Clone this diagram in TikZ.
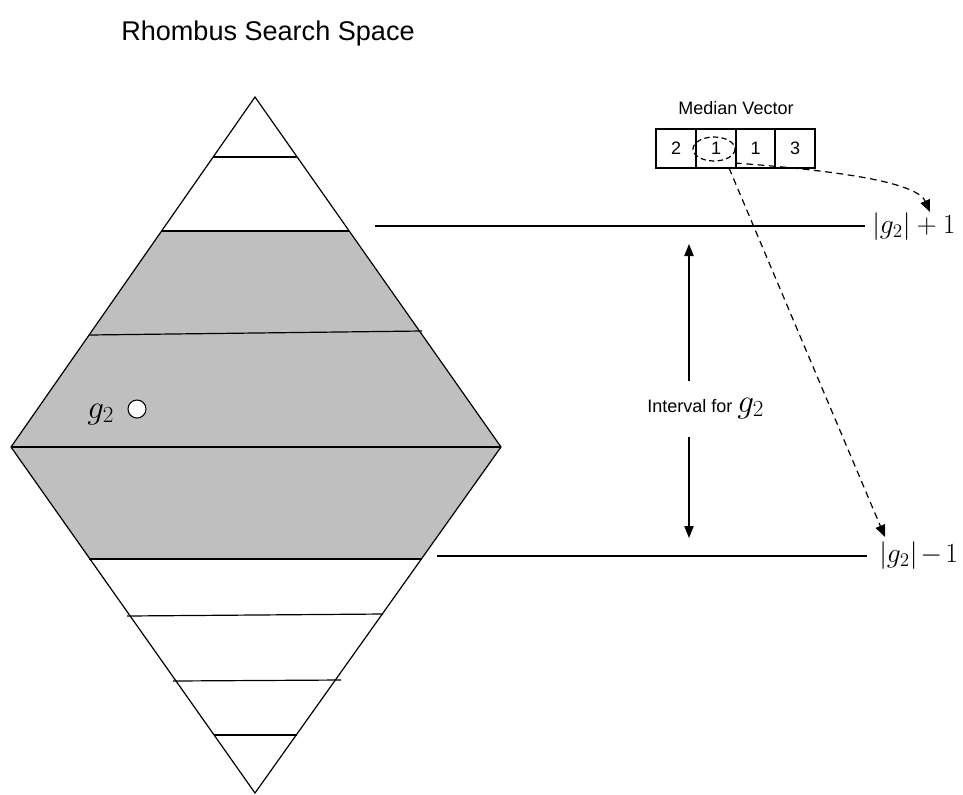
\documentclass[tikz,border=0pt]{standalone}
\usepackage{fontspec}
\setmainfont{Liberation Sans}
\usetikzlibrary{arrows.meta}
\definecolor{bandgray}{gray}{0.75}
\begin{document}
\begin{tikzpicture}[x=0.75pt,y=-0.75pt,
  edge/.style={line width=0.9pt,line join=miter},
  rung/.style={line width=0.9pt},
  dashedarrow/.style={line width=0.9pt,dash pattern=on 5pt off 3.5pt,-{Triangle[length=9pt,width=7.5pt]}},
  solidarrow/.style={line width=0.9pt,-{Triangle[length=9pt,width=7pt]}},
  cell/.style={draw,line width=0.8pt,minimum width=30pt,minimum height=29.25pt,inner sep=0pt,font=\fontsize{13.5}{16}\selectfont},
  smalltext/.style={inner sep=0pt,font=\fontsize{13.5}{16}\selectfont},
  mathlabel/.style={inner sep=0pt,font=\fontsize{19.5}{23}\selectfont},
  biglabel/.style={inner sep=0pt,font=\fontsize{26}{30}\selectfont}]
\useasboundingbox (0,0) rectangle (963,794);

% rhombus corners
\coordinate (T) at (255,97);
\coordinate (L) at (11,447);
\coordinate (R) at (501,447);
\coordinate (B) at (255,793);

% shaded band of the search interval
\fill[bandgray] (161.6,231) -- (348.4,231) -- (R) -- (421,559) -- (90,559) -- (L) -- cycle;

% outline
\draw[edge] (T) -- (R) -- (B) -- (L) -- cycle;

% levels of the rhombus
\draw[rung] (213,157) -- (297,157);
\draw[rung] (161,231) -- (349,231);
\draw[rung] (89,335) -- (422,331);
\draw[rung] (L) -- (R);
\draw[rung] (89,559) -- (422,559);
\draw[rung] (127,616) -- (383,614);
\draw[rung] (173,681) -- (341,680);
\draw[rung] (214,735) -- (297,735);

% title
\node[anchor=base west,inner sep=0pt,font=\fontsize{20.3}{24}\selectfont] (title) at (121,40) {Rhombus Search Space};

% query point
\node[draw,circle,fill=white,line width=0.8pt,minimum size=13.5pt,inner sep=0pt] (pt) at (137,409) {};
\node[biglabel,anchor=base west] (ptlabel) at (87,418) {$g_2$};

% bounds of the interval
\coordinate (upA) at (375,226);
\coordinate (upB) at (865,226);
\coordinate (loA) at (437,556);
\coordinate (loB) at (867,556);
\draw[rung] (upA) -- (upB);
\draw[rung] (loA) -- (loB);
\node[mathlabel,anchor=base west] (uplabel) at (872,233) {$|g_2|+1$};
\node[mathlabel,anchor=base west] (lolabel) at (879,562) {$|g_2|\mkern-2mu-\mkern-2mu1$};

% interval arrows
\node[smalltext,anchor=base west] (ivl) at (647,412) {Interval for \fontsize{26}{30}\selectfont$g_2$};
\coordinate (ivtop) at (689,381);
\coordinate (ivbot) at (689,437);
\coordinate (tipup) at (689,244);
\coordinate (tipdn) at (689,538);
\draw[solidarrow] (ivtop) -- (tipup);
\draw[solidarrow] (ivbot) -- (tipdn);

% median vector
\node[smalltext,anchor=base] (mvtitle) at (736,114) {Median Vector};
\node[cell] (c1) at (676,148.5) {2};
\node[cell] (c2) at (716,148.5) {1};
\node[cell] (c3) at (755.5,148.5) {1};
\node[cell] (c4) at (795,148.5) {3};
\draw[line width=0.9pt,dash pattern=on 4pt off 2.5pt] (714,149) ellipse [x radius=21,y radius=12];

% links from the selected entry to the bounds
\coordinate (selA) at (735,163);
\coordinate (selB) at (729,168);
\coordinate (tipp) at (930,212);
\coordinate (tipm) at (885,537);
\draw[dashedarrow] (selA) .. controls (800,168) and (915,178) .. (tipp);
\draw[dashedarrow] (selB) -- (tipm);
\end{tikzpicture}
\end{document}
